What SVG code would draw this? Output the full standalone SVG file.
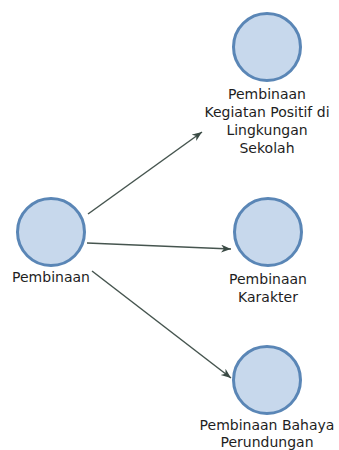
<svg xmlns="http://www.w3.org/2000/svg" width="339" height="450" viewBox="0 0 339 450">
<defs>
<style>
.node circle{fill:#c7d8ec;stroke:#5a86b6;stroke-width:3}
.node text{font-family:"DejaVu Sans",Verdana,sans-serif;font-size:14px;fill:#1e1e1e;text-anchor:middle}
.edge{stroke:#46554f;stroke-width:1.5;fill:none;marker-end:url(#arr)}
</style>
<marker id="arr" markerUnits="userSpaceOnUse" markerWidth="12" markerHeight="10" refX="10" refY="4" orient="auto">
<path d="M0,0 L10,4 L0,8 L3,4 z" fill="#3a4a44"/>
</marker>
</defs>
<rect width="339" height="450" fill="#ffffff"/>
<g id="connectors">
<line class="edge" x1="88" y1="214" x2="202" y2="132"/>
<line class="edge" x1="87" y1="243" x2="231" y2="249"/>
<line class="edge" x1="92" y1="271" x2="231" y2="378"/>
</g>
<g id="pembinaan" class="node">
<circle cx="51" cy="232" r="33.5"/>
<text x="51" y="282">Pembinaan</text>
</g>
<g id="kegiatan-positif" class="node">
<circle cx="267" cy="47" r="33.5"/>
<text x="267" y="99">Pembinaan</text>
<text x="267" y="117">Kegiatan Positif di</text>
<text x="267" y="135">Lingkungan</text>
<text x="267" y="153">Sekolah</text>
</g>
<g id="karakter" class="node">
<circle cx="268" cy="232" r="33.5"/>
<text x="268" y="284">Pembinaan</text>
<text x="268" y="301.5">Karakter</text>
</g>
<g id="bahaya-perundungan" class="node">
<circle cx="267" cy="380" r="33.5"/>
<text x="267" y="430">Pembinaan Bahaya</text>
<text x="267" y="447">Perundungan</text>
</g>
</svg>
